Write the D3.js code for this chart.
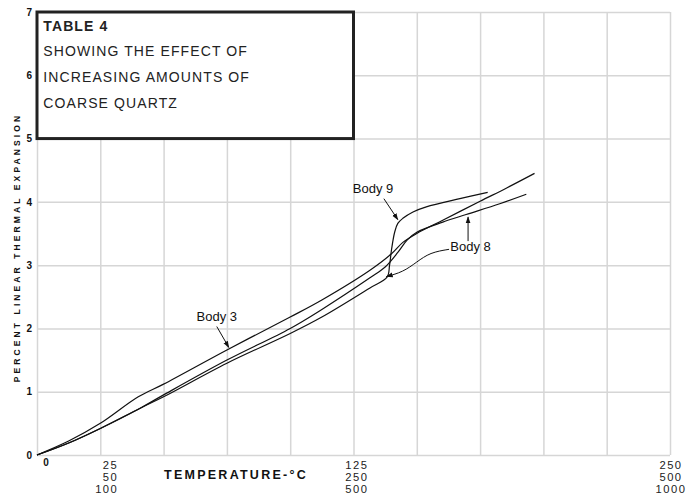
<!DOCTYPE html>
<html><head><meta charset="utf-8">
<script src="https://cdn.jsdelivr.net/npm/d3@7"></script>
<style>
html,body{margin:0;padding:0;background:#fff;}
svg{display:block;}
</style></head>
<body>
<svg id="chart" width="694" height="497"></svg>
<script>
// ---- data (x in °C on the 1000-scale row, y in % expansion) ----
const xGridValues = [0,100,200,300,400,500,600,700,800,900,1000];
const yTickValues = [0,1,2,3,4,5,6,7];
const xLabelValues = [100,500,1000];
const xLabelRows = [["25","50","100"],["125","250","500"],["250","500","1000"]];
const xZeroLabel = "0";
const xTitle = "TEMPERATURE-°C";
const yTitle = "PERCENT LINEAR THERMAL EXPANSION";
const titleLines = ["TABLE 4","SHOWING THE EFFECT OF","INCREASING AMOUNTS OF","COARSE QUARTZ"];
const seriesNames = ["Body 3","Body 8","Body 9"];
const body3 = [[0,0],[50,0.22],[100,0.5],[160,0.92],[200,1.12],[300,1.66],[400,2.18],[450,2.45],[526,2.92],[560,3.18],[578,3.36],[600,3.5],[641,3.71],[700,4.01],[742,4.22],[786,4.45]];
const body8 = [[0,0],[50,0.19],[100,0.42],[163,0.74],[200,0.95],[300,1.5],[400,2.0],[450,2.3],[526,2.80],[550,2.97],[570,3.2],[585,3.4],[600,3.52],[641,3.68],[678,3.80],[731,3.97],[773,4.12]];
const body9 = [[0,0],[50,0.19],[100,0.42],[163,0.74],[200,0.92],[300,1.45],[400,1.92],[450,2.18],[526,2.64],[553,2.81],[557,3.0],[560,3.24],[565,3.52],[570,3.66],[578,3.74],[594,3.84],[615,3.92],[668,4.05],[712,4.15]];

// ---- layout ----
const W = 694, H = 497;
const margin = {left:37, right:24, top:12, bottom:42};
const svg = d3.select("#chart");
const x = d3.scaleLinear().domain([0,1000]).range([margin.left, W - margin.right]);
const y = d3.scaleLinear().domain([0,7]).range([H - margin.bottom, margin.top]);
const FONT = "'Liberation Sans', Arial, Helvetica, sans-serif";

svg.append("defs").append("marker")
  .attr("id","arr").attr("viewBox","0 0 10 10").attr("refX",9).attr("refY",5)
  .attr("markerWidth",7).attr("markerHeight",7).attr("markerUnits","userSpaceOnUse")
  .attr("orient","auto")
  .append("path").attr("d","M0,1.5 L10,5 L0,8.5 Z").attr("fill","#111");

// grid
const gx = svg.append("g").attr("transform",`translate(0,${y(0)})`)
  .call(d3.axisBottom(x).tickValues(xGridValues).tickSize(-(y(0)-y(7))).tickFormat(""));
const gy = svg.append("g").attr("transform",`translate(${x(0)},0)`)
  .call(d3.axisLeft(y).tickValues(yTickValues).tickSize(-(x(1000)-x(0))).tickPadding(5).tickFormat(d3.format("d")));
[gx,gy].forEach(g=>{
  g.select(".domain").remove();
  g.selectAll(".tick line").attr("stroke","#d6d6d6").attr("stroke-width",1.5);
});
gy.selectAll(".tick text").attr("font-family",FONT).attr("font-weight","bold")
  .attr("font-size",10).attr("fill","#111");

// x labels
svg.append("text").attr("x", x(0)+9).attr("y", y(0)+11)
  .attr("text-anchor","middle").attr("font-family",FONT).attr("font-weight","bold")
  .attr("font-size",10).attr("fill","#111").text(xZeroLabel);
xLabelValues.forEach((v,i)=>{
  const last = i === xLabelValues.length-1;
  xLabelRows[i].forEach((s,j)=>{
    svg.append("text")
      .attr("font-family",FONT).attr("font-size",11.2).attr("fill","#222")
      .attr("letter-spacing",1.5)
      .attr("text-anchor", last ? "middle" : "end")
      .attr("x", last ? x(v)+1 : x(v)+ (i===0?18:15))
      .attr("y", y(0)+14.3+j*11.7).text(s);
  });
});
svg.append("text").attr("x",236).attr("y", y(0)+23.5)
  .attr("text-anchor","middle").attr("font-family",FONT).attr("font-weight","bold")
  .attr("font-size",12.5).attr("letter-spacing",2.25).attr("fill","#111").text(xTitle);

// y title
svg.append("text").attr("transform",`translate(20,${(y(0)+y(7))/2 + 14}) rotate(-90)`)
  .attr("text-anchor","middle").attr("font-family",FONT).attr("font-weight","bold")
  .attr("font-size",8.5).attr("letter-spacing",3.1).attr("fill","#111").text(yTitle);

// curves
const line = d3.line().x(d=>x(d[0])).y(d=>y(d[1])).curve(d3.curveCatmullRom.alpha(0.5));
[body3, body8, body9].forEach((s,i)=>{
  svg.append("path").datum(s).attr("class","series").attr("data-name",seriesNames[i])
    .attr("d",line).attr("fill","none").attr("stroke","#111").attr("stroke-width",1.2);
});

// annotations
function label(txt, dx, dy){
  svg.append("text").attr("x",x(dx)).attr("y",y(dy)).attr("font-family",FONT)
    .attr("font-size",13).attr("fill","#111").text(txt);
}
function arrow(pts, curved){
  const l = d3.line().x(d=>x(d[0])).y(d=>y(d[1]));
  if (curved) l.curve(d3.curveBasis);
  svg.append("path").datum(pts).attr("d",l).attr("fill","none")
    .attr("stroke","#111").attr("stroke-width",1).attr("marker-end","url(#arr)");
}
label(seriesNames[0], 252, 2.12);
arrow([[284,2.03],[303,1.70]]);
label(seriesNames[2], 499, 4.14);
arrow([[548,4.05],[570,3.72]]);
label(seriesNames[1], 653, 3.23);
arrow([[681,3.38],[681,3.76]]);
arrow([[651,3.25],[621,3.2],[600,3.05],[578,2.89],[552,2.82]], true);

// title box
const box = svg.append("g");
box.append("rect").attr("x",x(0)).attr("y",y(7)).attr("width",x(500)-x(0)).attr("height",y(5)-y(7))
  .attr("fill","#fff").attr("stroke","#222").attr("stroke-width",3);
const baseYs = [6.70,6.30,5.89,5.49];
titleLines.forEach((s,i)=>{
  box.append("text").attr("x",x(10)).attr("y",y(baseYs[i]))
    .attr("font-family",FONT).attr("font-size",14)
    .attr("font-weight", i===0 ? "bold" : "normal")
    .attr("letter-spacing", 1.1).attr("fill","#222").text(s);
});
</script>
</body></html>
